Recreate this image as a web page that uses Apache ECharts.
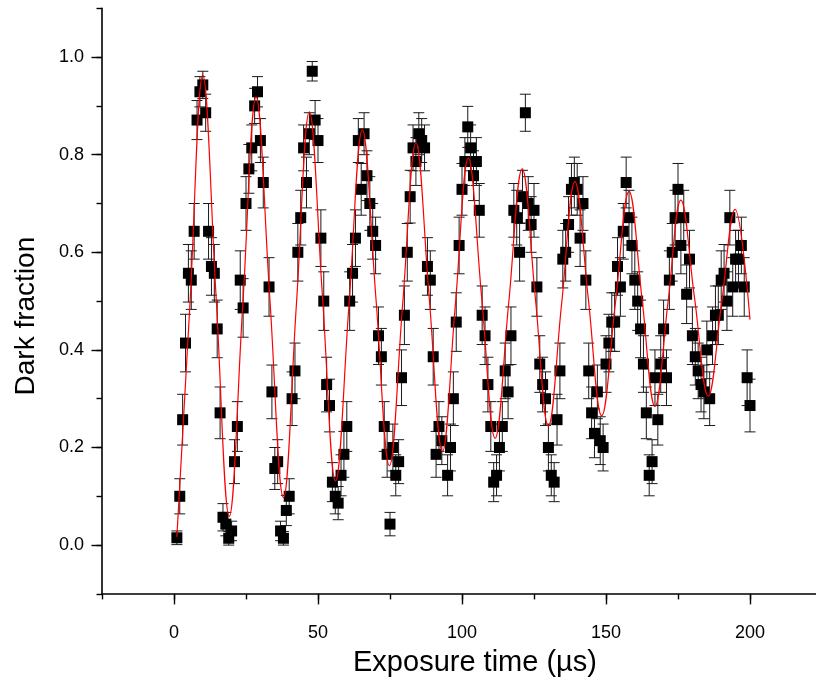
<!DOCTYPE html>
<html>
<head>
<meta charset="utf-8">
<script src="https://cdn.jsdelivr.net/npm/echarts@6/dist/echarts.min.js"></script>
<style>
  html, body { margin: 0; padding: 0; background: #ffffff; }
  #chart { width: 816px; height: 683px; }
</style>
</head>
<body>
<div id="chart"></div>
<script>
// Measured dark fraction vs. exposure time (µs), with statistical error bars
const time = [
  1, 2, 3, 4, 5, 6, 7, 8, 9, 10,
  11, 12, 13, 14, 15, 16, 17, 18, 19, 20,
  21, 22, 23, 24, 25, 26, 27, 28, 29, 30,
  31, 33, 34, 35, 36, 37, 38, 39, 40, 41,
  42, 43, 44, 45, 46, 47, 48, 49, 50, 51,
  52, 53, 54, 55, 56, 57, 58, 59, 60, 61,
  62, 63, 64, 65, 66, 67, 68, 69, 70, 71,
  72, 73, 74, 75, 76, 77, 78, 79, 80, 81,
  82, 83, 84, 85, 86, 87, 88, 89, 90, 91,
  92, 93, 95, 96, 97, 98, 99, 100, 101, 102,
  103, 104, 105, 106, 107, 108, 109, 110, 111, 112,
  113, 114, 115, 116, 117, 118, 119, 120, 121, 122,
  123, 124, 125, 126, 127, 128, 129, 130, 131, 132,
  133, 134, 135, 136, 137, 138, 139, 140, 141, 142,
  143, 144, 145, 146, 147, 148, 149, 150, 151, 152,
  153, 154, 155, 156, 157, 158, 159, 160, 161, 162,
  163, 164, 165, 166, 167, 168, 169, 170, 171, 172,
  173, 174, 175, 176, 177, 178, 179, 180, 181, 182,
  183, 184, 185, 186, 187, 188, 189, 190, 191, 192,
  193, 194, 195, 196, 197, 198, 199, 200
];

const darkFraction = [
  0.015, 0.100, 0.257, 0.414, 0.557, 0.543, 0.643, 0.871, 0.929, 0.943,
  0.886, 0.643, 0.571, 0.557, 0.443, 0.271, 0.057, 0.043, 0.014, 0.029,
  0.171, 0.243, 0.543, 0.486, 0.700, 0.771, 0.814, 0.900, 0.929, 0.829,
  0.743, 0.529, 0.314, 0.157, 0.171, 0.029, 0.014, 0.071, 0.100, 0.300,
  0.357, 0.600, 0.671, 0.814, 0.743, 0.843, 0.971, 0.871, 0.829, 0.629,
  0.500, 0.329, 0.286, 0.129, 0.100, 0.086, 0.143, 0.186, 0.243, 0.500,
  0.557, 0.629, 0.829, 0.729, 0.843, 0.757, 0.700, 0.643, 0.614, 0.429,
  0.386, 0.243, 0.186, 0.043, 0.200, 0.143, 0.171, 0.343, 0.471, 0.600,
  0.714, 0.814, 0.786, 0.843, 0.829, 0.814, 0.571, 0.543, 0.386, 0.186,
  0.243, 0.214, 0.143, 0.200, 0.300, 0.457, 0.614, 0.729, 0.786, 0.857,
  0.814, 0.757, 0.786, 0.686, 0.471, 0.429, 0.329, 0.243, 0.129, 0.143,
  0.200, 0.243, 0.357, 0.314, 0.429, 0.686, 0.671, 0.600, 0.714, 0.886,
  0.700, 0.657, 0.686, 0.529, 0.371, 0.329, 0.300, 0.200, 0.143, 0.129,
  0.257, 0.357, 0.586, 0.600, 0.657, 0.729, 0.743, 0.729, 0.629, 0.700,
  0.543, 0.357, 0.271, 0.229, 0.314, 0.214, 0.200, 0.371, 0.414, 0.457,
  0.457, 0.571, 0.529, 0.643, 0.743, 0.671, 0.614, 0.543, 0.500, 0.443,
  0.371, 0.271, 0.143, 0.171, 0.343, 0.257, 0.371, 0.443, 0.343, 0.543,
  0.600, 0.671, 0.729, 0.614, 0.671, 0.514, 0.586, 0.429, 0.386, 0.357,
  0.329, 0.314, 0.400, 0.300, 0.429, 0.471, 0.471, 0.543, 0.557, 0.500,
  0.671, 0.529, 0.586, 0.586, 0.614, 0.529, 0.343, 0.286
];

const errorBar = [
  0.014, 0.036, 0.052, 0.059, 0.059, 0.060, 0.057, 0.040, 0.031, 0.028,
  0.038, 0.057, 0.059, 0.059, 0.059, 0.053, 0.028, 0.024, 0.014, 0.020,
  0.045, 0.051, 0.060, 0.060, 0.055, 0.050, 0.047, 0.036, 0.031, 0.045,
  0.052, 0.060, 0.055, 0.043, 0.045, 0.020, 0.014, 0.031, 0.036, 0.055,
  0.057, 0.059, 0.056, 0.047, 0.052, 0.043, 0.020, 0.040, 0.045, 0.058,
  0.060, 0.056, 0.054, 0.040, 0.036, 0.034, 0.042, 0.047, 0.051, 0.060,
  0.059, 0.058, 0.045, 0.053, 0.043, 0.051, 0.055, 0.057, 0.058, 0.059,
  0.058, 0.051, 0.047, 0.024, 0.048, 0.042, 0.045, 0.057, 0.060, 0.059,
  0.054, 0.047, 0.049, 0.043, 0.045, 0.047, 0.059, 0.060, 0.058, 0.047,
  0.051, 0.049, 0.042, 0.048, 0.055, 0.060, 0.058, 0.053, 0.049, 0.042,
  0.047, 0.051, 0.049, 0.055, 0.060, 0.059, 0.056, 0.051, 0.040, 0.042,
  0.048, 0.051, 0.057, 0.055, 0.059, 0.055, 0.056, 0.059, 0.054, 0.038,
  0.055, 0.057, 0.055, 0.060, 0.058, 0.056, 0.055, 0.048, 0.042, 0.040,
  0.052, 0.057, 0.059, 0.059, 0.057, 0.053, 0.052, 0.053, 0.058, 0.055,
  0.060, 0.057, 0.053, 0.050, 0.055, 0.049, 0.048, 0.058, 0.059, 0.060,
  0.060, 0.059, 0.060, 0.057, 0.052, 0.056, 0.058, 0.060, 0.060, 0.059,
  0.058, 0.053, 0.042, 0.045, 0.057, 0.052, 0.058, 0.059, 0.057, 0.060,
  0.059, 0.056, 0.053, 0.058, 0.056, 0.060, 0.059, 0.059, 0.058, 0.057,
  0.056, 0.055, 0.059, 0.055, 0.059, 0.060, 0.060, 0.060, 0.059, 0.060,
  0.056, 0.060, 0.059, 0.059, 0.058, 0.060, 0.057, 0.054
];

// Damped-oscillation fit: turning points and mid-level crossings of the curve
const fitTime = [
  1, 5.5, 10.0, 14.6, 19.2, 23.85, 28.5, 33.25, 38.0, 42.5,
  47.0, 51.55, 56.1, 60.75, 65.4, 70.1, 74.8, 79.4, 84.0, 88.6,
  93.2, 97.7, 102.2, 106.85, 111.5, 116.2, 120.9, 125.45, 130.0, 134.6,
  139.2, 143.85, 148.5, 153.25, 158.0, 162.5, 167.0, 171.5, 176.0, 180.75,
  185.5, 190.15, 194.8, 200
];
const fitValue = [
  0.017, 0.490, 0.963, 0.511, 0.059, 0.489, 0.918, 0.508, 0.097, 0.493,
  0.888, 0.510, 0.131, 0.491, 0.851, 0.507, 0.163, 0.494, 0.824, 0.508,
  0.192, 0.493, 0.793, 0.506, 0.219, 0.495, 0.771, 0.508, 0.244, 0.495,
  0.745, 0.505, 0.265, 0.495, 0.725, 0.505, 0.284, 0.496, 0.707, 0.506,
  0.305, 0.497, 0.688, 0.462
];

// Labelled tick values
const xTickLabels = [0, 50, 100, 150, 200];
const yTickLabels = [0.0, 0.2, 0.4, 0.6, 0.8, 1.0];

const points = time.map((t, i) => [t, darkFraction[i]]);
const bars = time.map((t, i) => [t, darkFraction[i] - errorBar[i], darkFraction[i] + errorBar[i]]);
const fit = fitTime.map((t, i) => [t, fitValue[i]]);

const FONT = '"Liberation Sans", Arial, Helvetica, sans-serif';
const AXIS_COLOR = '#000000';

const chart = echarts.init(document.getElementById('chart'), null, { renderer: 'canvas' });

chart.setOption({
  animation: false,
  backgroundColor: '#ffffff',
  // the x axis runs on to 225, just past the right edge of the canvas
  grid: {
    left: 102, top: 8.3, width: 720, height: 585.6,
    containLabel: false, outerBoundsMode: 'none'
  },
  xAxis: [
    {
      type: 'value', min: -25, max: 225, interval: 25,
      axisLine: { onZero: false, lineStyle: { color: AXIS_COLOR, width: 1.6 } },
      axisTick: { length: 5.5, lineStyle: { color: AXIS_COLOR, width: 1.4 } },
      axisLabel: { show: false },
      splitLine: { show: false }
    },
    {
      type: 'value', min: -25, max: 225, position: 'bottom',
      axisLine: { show: false, onZero: false },
      axisTick: { customValues: xTickLabels, length: 10.5, lineStyle: { color: AXIS_COLOR, width: 1.4 } },
      axisLabel: {
        customValues: xTickLabels, color: '#000', fontFamily: FONT, fontSize: 18, margin: 30
      },
      splitLine: { show: false },
      name: 'Exposure time (µs)', nameLocation: 'middle', nameGap: 55,
      nameTextStyle: { color: '#000', fontFamily: FONT, fontSize: 29, padding: [0, 0, 0, 26] }
    }
  ],
  yAxis: [
    {
      type: 'value', min: -0.1, max: 1.1, interval: 0.1,
      axisLine: { show: true, onZero: false, lineStyle: { color: AXIS_COLOR, width: 1.6 } },
      axisTick: { show: true, length: 5.5, lineStyle: { color: AXIS_COLOR, width: 1.4 } },
      axisLabel: { show: false },
      splitLine: { show: false }
    },
    {
      type: 'value', min: -0.1, max: 1.1, position: 'left',
      axisLine: { show: false, onZero: false },
      axisTick: { show: true, customValues: yTickLabels, length: 10.5, lineStyle: { color: AXIS_COLOR, width: 1.4 } },
      axisLabel: {
        customValues: yTickLabels, color: '#000', fontFamily: FONT, fontSize: 18, margin: 18,
        formatter: v => Number(v).toFixed(1)
      },
      splitLine: { show: false },
      name: 'Dark fraction', nameLocation: 'middle', nameGap: 62, nameRotate: 90,
      nameTextStyle: { color: '#000', fontFamily: FONT, fontSize: 28, padding: [0, 30, 0, 0] }
    }
  ],
  series: [
    {
      name: 'error',
      type: 'custom',
      xAxisIndex: 0, yAxisIndex: 0,
      data: bars,
      encode: { x: 0, y: [1, 2] },
      z: 2,
      silent: true,
      renderItem: function (params, api) {
        const x = api.value(0);
        const lo = api.coord([x, api.value(1)]);
        const hi = api.coord([x, api.value(2)]);
        const cap = 5.5;
        const style = { stroke: '#1a1a1a', lineWidth: 1, fill: null };
        return {
          type: 'group',
          children: [
            { type: 'line', shape: { x1: lo[0], y1: lo[1], x2: hi[0], y2: hi[1] }, style: style },
            { type: 'line', shape: { x1: lo[0] - cap, y1: lo[1], x2: lo[0] + cap, y2: lo[1] }, style: style },
            { type: 'line', shape: { x1: hi[0] - cap, y1: hi[1], x2: hi[0] + cap, y2: hi[1] }, style: style }
          ]
        };
      }
    },
    {
      name: 'data',
      type: 'scatter',
      xAxisIndex: 0, yAxisIndex: 0,
      data: points,
      symbol: 'rect',
      symbolSize: 11,
      itemStyle: { color: '#000000', opacity: 1 },
      z: 3,
      silent: true
    },
    {
      name: 'fit',
      type: 'line',
      xAxisIndex: 0, yAxisIndex: 0,
      data: fit,
      smooth: 0.4,
      showSymbol: false,
      lineStyle: { color: '#ff0000', width: 1.2 },
      z: 4,
      silent: true
    }
  ]
});
</script>
</body>
</html>
